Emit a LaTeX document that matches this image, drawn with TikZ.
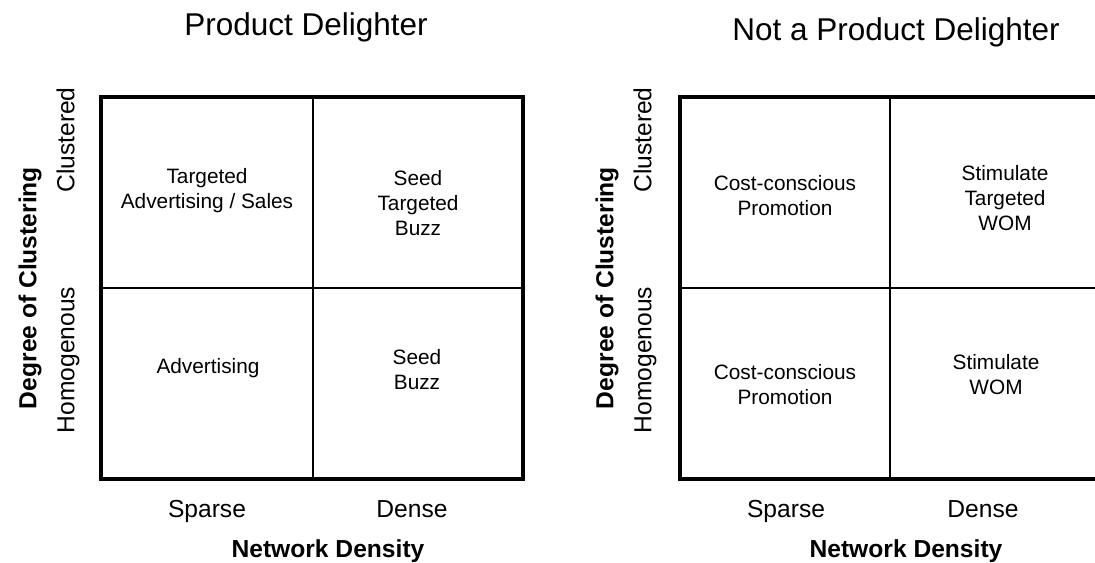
\documentclass[tikz,border=0pt]{standalone}
\usepackage{fontspec}
\setmainfont{Liberation Sans}
\begin{document}
\begin{tikzpicture}[x=0.025cm,y=-0.025cm,
  title/.style={font=\fontsize{22.4}{26}\selectfont},
  axis/.style={font=\fontsize{17.5}{21}\selectfont,text height=1.6ex,text depth=.4ex},
  axisname/.style={font=\fontsize{17.5}{21}\selectfont\bfseries,text height=1.6ex,text depth=.4ex},
  cell/.style={align=center,font=\fontsize{14.8}{17.8}\selectfont},
  frame/.style={line width=2.5pt},
  split/.style={line width=1pt}]
\useasboundingbox (0,0) rectangle (1095,563);
% left matrix
\node[title] (t1) at (306,27) {Product Delighter};
\draw[split] (313,97)--(313,479);
\draw[split] (101,288)--(523,288);
\draw[frame] (101,97) rectangle (523,479);
\node[cell] (c11) at (207,191) {Targeted\\Advertising / Sales};
\node[cell] (c12) at (418,203) {Seed\\Targeted\\Buzz};
\node[cell] (c21) at (208,368) {Advertising};
\node[cell] (c22) at (417,370) {Seed\\Buzz};
\node[axisname,rotate=90] (y1) at (32,288) {Degree of Clustering};
\node[axis,rotate=90] (hi1) at (70,140) {Clustered};
\node[axis,rotate=90] (lo1) at (70,360) {Homogenous};
\node[axis] (sp1) at (207,513) {Sparse};
\node[axis] (de1) at (412,513) {Dense};
\node[axisname] (x1) at (328,553) {Network Density};
% right matrix
\node[title] (t2) at (896,32) {Not a Product Delighter};
\draw[split] (890,97)--(890,479);
\draw[split] (680,288)--(1120,288);
\draw[frame] (680,97) rectangle (1120,479);
\node[cell] (d11) at (785,196) {Cost-conscious\\Promotion};
\node[cell] (d12) at (1005,198) {Stimulate\\Targeted\\WOM};
\node[cell] (d21) at (785,385) {Cost-conscious\\Promotion};
\node[cell] (d22) at (996,375) {Stimulate\\WOM};
\node[axisname,rotate=90] (y2) at (609,288) {Degree of Clustering};
\node[axis,rotate=90] (hi2) at (647,140) {Clustered};
\node[axis,rotate=90] (lo2) at (647,360) {Homogenous};
\node[axis] (sp2) at (786,513) {Sparse};
\node[axis] (de2) at (983,513) {Dense};
\node[axisname] (x2) at (906,553) {Network Density};
\end{tikzpicture}
\end{document}
